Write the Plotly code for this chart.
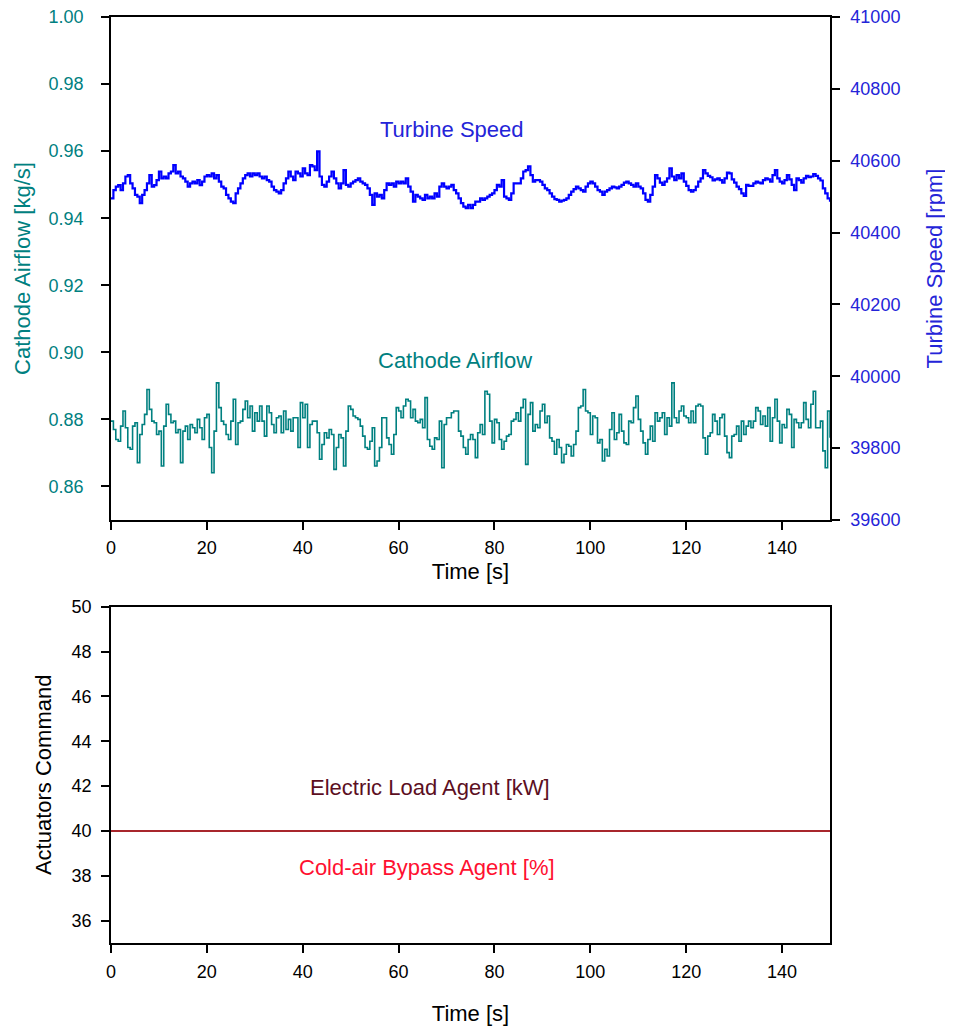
import plotly.graph_objects as go

# ---------------- data ----------------
time_s = [i * 0.5 for i in range(301)]

cathode_airflow = [
    0.8795, 0.8770, 0.8740, 0.8735, 0.8780, 0.8825, 0.8775, 0.8716, 0.8711, 0.8780,
    0.8790, 0.8671, 0.8755, 0.8785, 0.8815, 0.8889, 0.8830, 0.8795, 0.8790, 0.8755,
    0.8765, 0.8661, 0.8780, 0.8845, 0.8815, 0.8790, 0.8795, 0.8760, 0.8770, 0.8671,
    0.8765, 0.8780, 0.8740, 0.8785, 0.8775, 0.8760, 0.8800, 0.8775, 0.8740, 0.8805,
    0.8815, 0.8716, 0.8641, 0.8765, 0.8909, 0.8835, 0.8795, 0.8785, 0.8755, 0.8740,
    0.8795, 0.8860, 0.8725, 0.8790, 0.8795, 0.8830, 0.8855, 0.8805, 0.8840, 0.8765,
    0.8820, 0.8795, 0.8840, 0.8795, 0.8750, 0.8840, 0.8820, 0.8785, 0.8760, 0.8805,
    0.8810, 0.8760, 0.8825, 0.8770, 0.8800, 0.8765, 0.8805, 0.8805, 0.8716, 0.8850,
    0.8805, 0.8845, 0.8716, 0.8785, 0.8795, 0.8795, 0.8760, 0.8681, 0.8725, 0.8760,
    0.8745, 0.8770, 0.8755, 0.8651, 0.8716, 0.8755, 0.8745, 0.8661, 0.8765, 0.8840,
    0.8830, 0.8810, 0.8805, 0.8800, 0.8780, 0.8750, 0.8716, 0.8711, 0.8735, 0.8775,
    0.8661, 0.8676, 0.8716, 0.8805, 0.8805, 0.8745, 0.8725, 0.8696, 0.8755, 0.8835,
    0.8825, 0.8805, 0.8840, 0.8860, 0.8855, 0.8805, 0.8830, 0.8795, 0.8790, 0.8800,
    0.8775, 0.8865, 0.8740, 0.8720, 0.8711, 0.8745, 0.8740, 0.8795, 0.8656, 0.8785,
    0.8805, 0.8805, 0.8820, 0.8825, 0.8825, 0.8765, 0.8750, 0.8716, 0.8696, 0.8740,
    0.8755, 0.8740, 0.8686, 0.8760, 0.8785, 0.8755, 0.8884, 0.8875, 0.8795, 0.8730,
    0.8800, 0.8790, 0.8740, 0.8711, 0.8735, 0.8750, 0.8755, 0.8795, 0.8800, 0.8820,
    0.8795, 0.8835, 0.8860, 0.8666, 0.8815, 0.8850, 0.8765, 0.8785, 0.8775, 0.8825,
    0.8845, 0.8790, 0.8810, 0.8745, 0.8735, 0.8696, 0.8740, 0.8716, 0.8671, 0.8696,
    0.8725, 0.8720, 0.8691, 0.8725, 0.8765, 0.8835, 0.8840, 0.8889, 0.8825, 0.8820,
    0.8755, 0.8810, 0.8805, 0.8730, 0.8740, 0.8676, 0.8711, 0.8691, 0.8770, 0.8820,
    0.8740, 0.8760, 0.8815, 0.8765, 0.8730, 0.8725, 0.8795, 0.8790, 0.8835, 0.8870,
    0.8800, 0.8765, 0.8730, 0.8696, 0.8740, 0.8780, 0.8735, 0.8820, 0.8795, 0.8805,
    0.8820, 0.8755, 0.8805, 0.8780, 0.8909, 0.8805, 0.8790, 0.8825, 0.8840, 0.8810,
    0.8805, 0.8790, 0.8825, 0.8790, 0.8840, 0.8845, 0.8840, 0.8745, 0.8696, 0.8750,
    0.8760, 0.8815, 0.8795, 0.8755, 0.8805, 0.8815, 0.8750, 0.8701, 0.8686, 0.8750,
    0.8755, 0.8780, 0.8735, 0.8795, 0.8755, 0.8780, 0.8795, 0.8775, 0.8795, 0.8835,
    0.8825, 0.8785, 0.8810, 0.8780, 0.8835, 0.8735, 0.8805, 0.8860, 0.8795, 0.8730,
    0.8785, 0.8775, 0.8830, 0.8815, 0.8716, 0.8800, 0.8790, 0.8775, 0.8790, 0.8850,
    0.8800, 0.8775, 0.8845, 0.8884, 0.8775, 0.8775, 0.8795, 0.8706, 0.8656, 0.8825,
    0.8745,
]

turbine_speed = [
    40495, 40518, 40528, 40532, 40518, 40537, 40556, 40560, 40537, 40523,
    40505, 40500, 40482, 40505, 40518, 40537, 40560, 40528, 40532, 40546,
    40570, 40551, 40556, 40551, 40565, 40570, 40588, 40565, 40570, 40556,
    40551, 40542, 40528, 40537, 40542, 40537, 40546, 40532, 40542, 40556,
    40560, 40556, 40565, 40551, 40560, 40542, 40528, 40523, 40505, 40495,
    40486, 40482, 40509, 40523, 40537, 40551, 40560, 40565, 40556, 40565,
    40560, 40565, 40556, 40551, 40556, 40546, 40542, 40528, 40518, 40514,
    40509, 40518, 40537, 40551, 40570, 40556, 40546, 40570, 40565, 40556,
    40579, 40565, 40560, 40588, 40584, 40574, 40626, 40556, 40533, 40528,
    40542, 40556, 40570, 40551, 40537, 40523, 40537, 40574, 40533, 40528,
    40537, 40542, 40546, 40551, 40542, 40537, 40533, 40523, 40505, 40477,
    40509, 40500, 40505, 40495, 40518, 40537, 40533, 40537, 40528, 40542,
    40537, 40542, 40537, 40551, 40528, 40514, 40486, 40505, 40500, 40495,
    40491, 40505, 40495, 40500, 40495, 40509, 40500, 40528, 40537, 40528,
    40523, 40528, 40533, 40518, 40509, 40495, 40482, 40472, 40468, 40477,
    40468, 40477, 40486, 40486, 40495, 40491, 40495, 40500, 40505, 40509,
    40518, 40533, 40528, 40546, 40500, 40495, 40491, 40509, 40537, 40537,
    40537, 40551, 40570, 40574, 40584, 40560, 40542, 40546, 40546, 40542,
    40533, 40523, 40518, 40509, 40500, 40493, 40491, 40486, 40489, 40491,
    40495, 40505, 40514, 40521, 40528, 40523, 40518, 40514, 40528, 40537,
    40542, 40537, 40528, 40518, 40514, 40505, 40514, 40518, 40523, 40528,
    40526, 40523, 40528, 40533, 40539, 40542, 40537, 40533, 40528, 40537,
    40528, 40523, 40509, 40491, 40486, 40505, 40528, 40560, 40551, 40539,
    40533, 40542, 40551, 40579, 40556, 40546, 40560, 40551, 40565, 40542,
    40530, 40518, 40514, 40518, 40528, 40542, 40551, 40574, 40565, 40558,
    40554, 40545, 40548, 40551, 40546, 40539, 40551, 40567, 40565, 40548,
    40539, 40528, 40521, 40509, 40502, 40533, 40530, 40530, 40537, 40542,
    40539, 40537, 40546, 40551, 40548, 40542, 40560, 40574, 40551, 40542,
    40537, 40546, 40560, 40548, 40533, 40518, 40551, 40546, 40539, 40551,
    40558, 40554, 40556, 40563, 40558, 40551, 40545, 40523, 40509, 40495,
    40486,
]

cmd_time = [0, 150]
electric_load_kw = [40, 40]
cold_air_bypass_pct = [40, 40]

x_ticks = [0, 20, 40, 60, 80, 100, 120, 140]
airflow_ticks = [0.86, 0.88, 0.90, 0.92, 0.94, 0.96, 0.98, 1.00]
speed_ticks = [39600, 39800, 40000, 40200, 40400, 40600, 40800, 41000]
cmd_ticks = [36, 38, 40, 42, 44, 46, 48, 50]

# ---------------- styling ----------------
TEAL = "#008080"
BLUE = "#0000FF"
BLUE_TXT = "#2424d8"
MAROON = "#8B1A1A"
MAROON_TXT = "#5c0f1f"
RED_TXT = "#ff1030"
FONT = "Liberation Sans, Arial, sans-serif"
TICK_SIZE = 18
TITLE_SIZE = 22

fig = go.Figure()

fig.add_trace(go.Scatter(x=time_s, y=cathode_airflow, mode="lines",
                         line=dict(color=TEAL, width=1.6, shape="hv"),
                         xaxis="x", yaxis="y", showlegend=False))
fig.add_trace(go.Scatter(x=time_s, y=turbine_speed, mode="lines",
                         line=dict(color=BLUE, width=2.2, shape="hv"),
                         xaxis="x", yaxis="y2", showlegend=False))
fig.add_trace(go.Scatter(x=cmd_time, y=cold_air_bypass_pct, mode="lines",
                         line=dict(color="#ff1030", width=1.5),
                         xaxis="x2", yaxis="y3", showlegend=False))
fig.add_trace(go.Scatter(x=cmd_time, y=electric_load_kw, mode="lines",
                         line=dict(color=MAROON, width=1.5),
                         xaxis="x2", yaxis="y3", showlegend=False))

axis_common = dict(showline=True, linecolor="black", linewidth=1.5,
                   ticks="outside", ticklen=8, tickwidth=1.5, tickcolor="black",
                   showgrid=False, zeroline=False, automargin=False,
                   ticklabeloverflow="allow")

fig.update_layout(
    width=953, height=1021,
    margin=dict(l=103, r=131, t=9, b=86),
    paper_bgcolor="white", plot_bgcolor="white",
    font=dict(family=FONT, size=TICK_SIZE, color="black"),
    xaxis=dict(domain=[0, 1], anchor="y", range=[0, 150], tickvals=x_ticks,
               mirror=True, ticklabelstandoff=3,
               title=dict(text="Time [s]", font=dict(size=TITLE_SIZE), standoff=6),
               **axis_common),
    yaxis=dict(domain=[0.4568, 1], anchor="x", range=[0.85, 1.0],
               tickvals=airflow_ticks, tickformat=".2f",
               tickfont=dict(color=TEAL), ticklabelstandoff=14,
               title=dict(text="Cathode Airflow [kg/s]",
                          font=dict(size=TITLE_SIZE, color=TEAL), standoff=12),
               **axis_common),
    yaxis2=dict(overlaying="y", side="right", anchor="x", range=[39600, 41000],
                tickvals=speed_ticks, tickformat="d",
                tickfont=dict(color=BLUE_TXT), ticklabelstandoff=7,
                title=dict(text="Turbine Speed [rpm]",
                           font=dict(size=TITLE_SIZE, color=BLUE_TXT), standoff=27),
                **axis_common),
    xaxis2=dict(domain=[0, 1], anchor="y3", range=[0, 150], tickvals=x_ticks,
                mirror=True, ticklabelstandoff=4,
                title=dict(text="Time [s]", font=dict(size=TITLE_SIZE), standoff=24),
                **axis_common),
    yaxis3=dict(domain=[0, 0.3632], anchor="x2", range=[35, 50],
                tickvals=cmd_ticks, mirror=True, ticklabelstandoff=6,
                title=dict(text="Actuators Command",
                           font=dict(size=TITLE_SIZE), standoff=14),
                **axis_common),
    annotations=[
        dict(text="Turbine Speed", x=71.1, y=40686, xref="x", yref="y2",
             showarrow=False, font=dict(size=TITLE_SIZE, color=BLUE_TXT)),
        dict(text="Cathode Airflow", x=71.8, y=0.8977, xref="x", yref="y",
             showarrow=False, font=dict(size=TITLE_SIZE, color=TEAL)),
        dict(text="Electric Load Agent [kW]", x=66.6, y=41.92, xref="x2", yref="y3",
             showarrow=False, font=dict(size=TITLE_SIZE, color=MAROON_TXT)),
        dict(text="Cold-air Bypass Agent [%]", x=66.0, y=38.36, xref="x2", yref="y3",
             showarrow=False, font=dict(size=TITLE_SIZE, color=RED_TXT)),
    ],
)

fig.write_html("out.html")
